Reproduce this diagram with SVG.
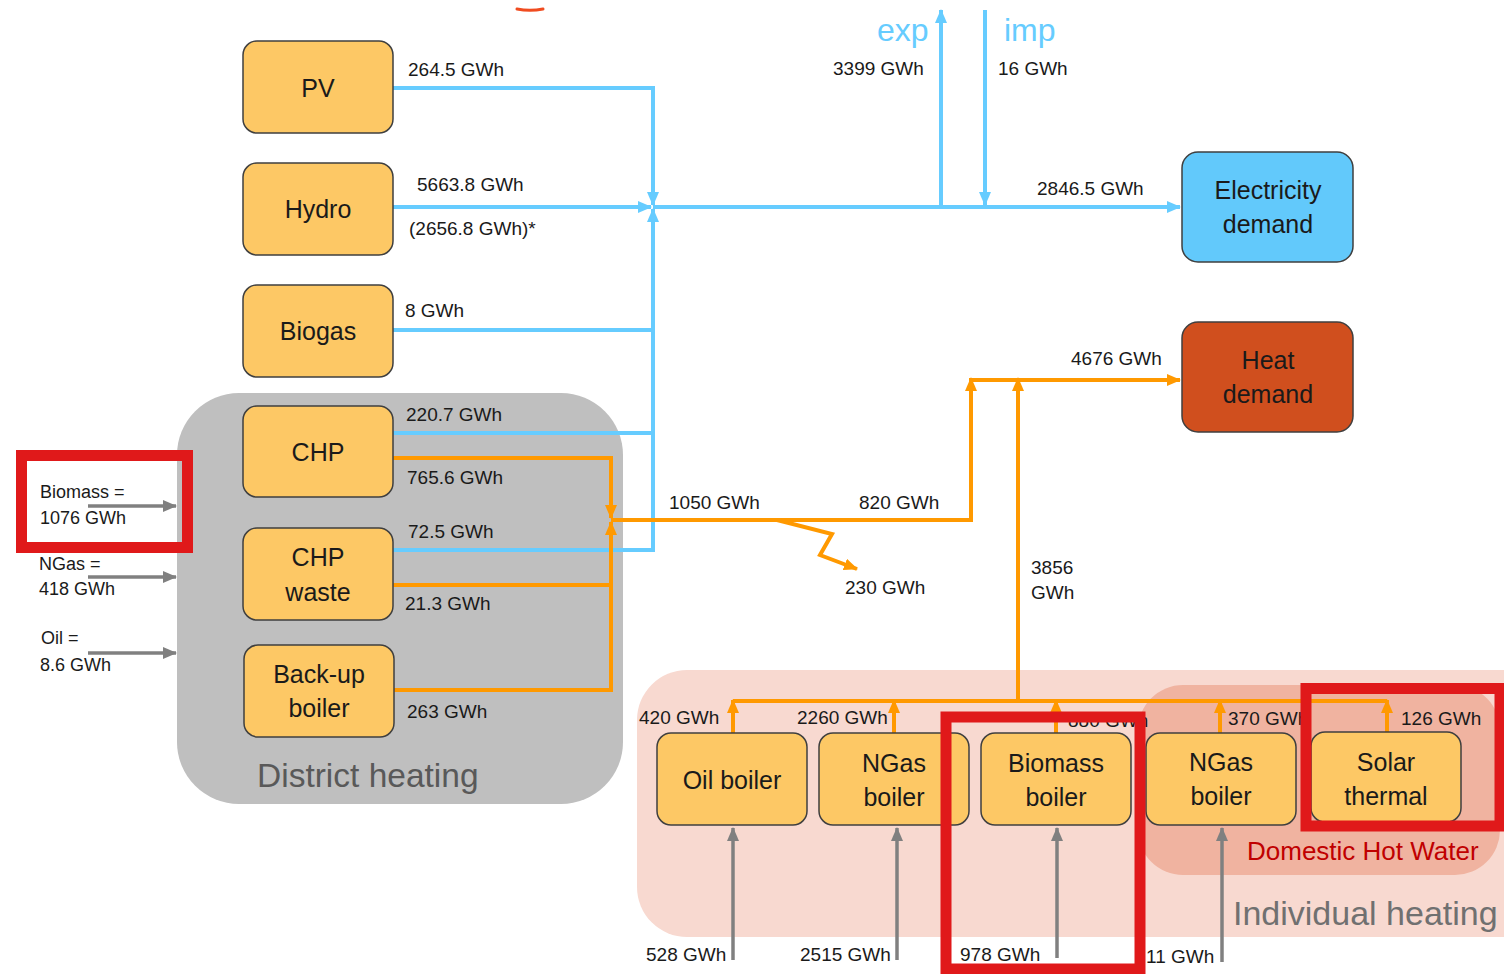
<svg xmlns="http://www.w3.org/2000/svg" width="1504" height="974" viewBox="0 0 1504 974">
  <style>
    text { font-family: "Liberation Sans", Arial, sans-serif; fill: #1a1a1a; }
    .node { fill: #FDC865; stroke: #3F3F3F; stroke-width: 1.5; }
    .nlabel { font-size: 25px; text-anchor: middle; }
    .val { font-size: 19px; }
    .src { font-size: 18px; }
    .elec { fill: none; stroke: #66CCFF; stroke-width: 4; }
    .heat { fill: none; stroke: #FF9900; stroke-width: 4; }
    .fuel { fill: none; stroke: #808080; stroke-width: 3.5; }
    .frame { fill: none; stroke: #E0191A; stroke-width: 11; }
  </style>
  <defs>
    <marker id="aBlue" markerUnits="userSpaceOnUse" markerWidth="14" markerHeight="12" refX="13" refY="6" orient="auto">
      <path d="M0,0 L14,6 L0,12 Z" fill="#66CCFF"/>
    </marker>
    <marker id="aOrange" markerUnits="userSpaceOnUse" markerWidth="14" markerHeight="12" refX="13" refY="6" orient="auto">
      <path d="M0,0 L14,6 L0,12 Z" fill="#FF9900"/>
    </marker>
    <marker id="aGray" markerUnits="userSpaceOnUse" markerWidth="14" markerHeight="12" refX="13" refY="6" orient="auto">
      <path d="M0,0 L14,6 L0,12 Z" fill="#808080"/>
    </marker>
  </defs>

  <rect width="1504" height="974" fill="#FFFFFF"/>

  <!-- small mark at the top edge -->
  <path d="M517,9 Q530,11.5 543,9" fill="none" stroke="#F04C20" stroke-width="3" stroke-linecap="round"/>

  <!-- regions -->
  <g id="district-heating">
    <rect x="177" y="393" width="446" height="411" rx="62" fill="#BFBFBF"/>
    <text x="257" y="787" font-size="33.5" style="fill:#595959">District heating</text>
  </g>
  <g id="individual-heating">
    <rect x="637" y="670" width="920" height="267" rx="50" fill="#F8D9D0"/>
    <text x="1233" y="925" font-size="34" style="fill:#707070">Individual heating</text>
  </g>
  <g id="domestic-hot-water">
    <rect x="1138" y="685" width="362" height="190" rx="45" fill="#F0B3A0"/>
    <text x="1247" y="860" font-size="26" style="fill:#C00000">Domestic Hot Water</text>
  </g>

  <!-- connectors -->
  <g id="connectors">
    <!-- electricity -->
    <path class="elec" d="M393,88 H653 V205" marker-end="url(#aBlue)"/>
    <path class="elec" d="M393,207 H651" marker-end="url(#aBlue)"/>
    <path class="elec" d="M393,330 H653"/>
    <path class="elec" d="M393,433 H653"/>
    <path class="elec" d="M393,550 H653 V209" marker-end="url(#aBlue)"/>
    <path class="elec" d="M653,207 H1180" marker-end="url(#aBlue)"/>
    <path class="elec" d="M941,207 V10" marker-end="url(#aBlue)"/>
    <path class="elec" d="M985,10 V205" marker-end="url(#aBlue)"/>
    <!-- heat, district -->
    <path class="heat" d="M393,458 H611 V518" marker-end="url(#aOrange)"/>
    <path class="heat" d="M393,585 H611"/>
    <path class="heat" d="M394,690 H611 V522" marker-end="url(#aOrange)"/>
    <path class="heat" d="M611,520 H971 V378" marker-end="url(#aOrange)"/>
    <path class="heat" d="M971,380 H1180" marker-end="url(#aOrange)"/>
    <path class="heat" d="M777,520 L832,534 L820,555 L857,569" marker-end="url(#aOrange)"/>
    <!-- heat, individual -->
    <path class="heat" d="M733,701 H1387"/>
    <path class="heat" d="M1018,701 V378" marker-end="url(#aOrange)"/>
    <path class="heat" d="M733,733 V700" marker-end="url(#aOrange)"/>
    <path class="heat" d="M894,733 V700" marker-end="url(#aOrange)"/>
    <path class="heat" d="M1056,733 V700" marker-end="url(#aOrange)"/>
    <path class="heat" d="M1220,733 V700" marker-end="url(#aOrange)"/>
    <path class="heat" d="M1387,732 V700" marker-end="url(#aOrange)"/>
    <!-- fuels -->
    <path class="fuel" d="M88,506 H176" marker-end="url(#aGray)"/>
    <path class="fuel" d="M88,577 H176" marker-end="url(#aGray)"/>
    <path class="fuel" d="M88,653 H176" marker-end="url(#aGray)"/>
    <path class="fuel" d="M733,960 V828" marker-end="url(#aGray)"/>
    <path class="fuel" d="M897,960 V828" marker-end="url(#aGray)"/>
    <path class="fuel" d="M1057,958 V828" marker-end="url(#aGray)"/>
    <path class="fuel" d="M1222,962 V828" marker-end="url(#aGray)"/>
  </g>

  <!-- supply nodes -->
  <g id="pv"><rect class="node" x="243" y="41" width="150" height="92" rx="14"/><text class="nlabel" x="318" y="97">PV</text></g>
  <g id="hydro"><rect class="node" x="243" y="163" width="150" height="92" rx="14"/><text class="nlabel" x="318" y="218">Hydro</text></g>
  <g id="biogas"><rect class="node" x="243" y="285" width="150" height="92" rx="14"/><text class="nlabel" x="318" y="340">Biogas</text></g>
  <g id="chp"><rect class="node" x="243" y="406" width="150" height="91" rx="14"/><text class="nlabel" x="318" y="461">CHP</text></g>
  <g id="chp-waste"><rect class="node" x="243" y="528" width="150" height="92" rx="14"/><text class="nlabel" x="318" y="566">CHP</text><text class="nlabel" x="318" y="601">waste</text></g>
  <g id="backup-boiler"><rect class="node" x="244" y="645" width="150" height="92" rx="14"/><text class="nlabel" x="319" y="683">Back-up</text><text class="nlabel" x="319" y="717">boiler</text></g>

  <!-- demand nodes -->
  <g id="electricity-demand"><rect x="1182" y="152" width="171" height="110" rx="16" fill="#62C9FB" stroke="#3F3F3F" stroke-width="1.5"/><text class="nlabel" x="1268" y="199">Electricity</text><text class="nlabel" x="1268" y="233">demand</text></g>
  <g id="heat-demand"><rect x="1182" y="322" width="171" height="110" rx="16" fill="#D04F1E" stroke="#3F3F3F" stroke-width="1.5"/><text class="nlabel" x="1268" y="369">Heat</text><text class="nlabel" x="1268" y="403">demand</text></g>

  <!-- individual boilers -->
  <g id="oil-boiler"><rect class="node" x="657" y="733" width="150" height="92" rx="14"/><text class="nlabel" x="732" y="789">Oil boiler</text></g>
  <g id="ngas-boiler"><rect class="node" x="819" y="733" width="150" height="92" rx="14"/><text class="nlabel" x="894" y="772">NGas</text><text class="nlabel" x="894" y="806">boiler</text></g>
  <g id="biomass-boiler"><rect class="node" x="981" y="733" width="150" height="92" rx="14"/><text class="nlabel" x="1056" y="772">Biomass</text><text class="nlabel" x="1056" y="806">boiler</text></g>
  <g id="ngas-boiler-dhw"><rect class="node" x="1146" y="733" width="150" height="92" rx="14"/><text class="nlabel" x="1221" y="771">NGas</text><text class="nlabel" x="1221" y="805">boiler</text></g>
  <g id="solar-thermal"><rect class="node" x="1311" y="732" width="150" height="90" rx="14"/><text class="nlabel" x="1386" y="771">Solar</text><text class="nlabel" x="1386" y="805">thermal</text></g>

  <!-- flow values -->
  <g id="labels">
    <text x="877" y="41" font-size="32" style="fill:#66CCFF">exp</text>
    <text x="1004" y="41" font-size="32" style="fill:#66CCFF">imp</text>
    <text class="val" x="833" y="75">3399 GWh</text>
    <text class="val" x="998" y="75">16 GWh</text>
    <text class="val" x="1037" y="195">2846.5 GWh</text>
    <text class="val" x="408" y="76">264.5 GWh</text>
    <text class="val" x="417" y="191">5663.8 GWh</text>
    <text class="val" x="409" y="235">(2656.8 GWh)*</text>
    <text class="val" x="405" y="317">8 GWh</text>
    <text class="val" x="406" y="421">220.7 GWh</text>
    <text class="val" x="407" y="484">765.6 GWh</text>
    <text class="val" x="408" y="538">72.5 GWh</text>
    <text class="val" x="405" y="610">21.3 GWh</text>
    <text class="val" x="407" y="718">263 GWh</text>
    <text class="val" x="669" y="509">1050 GWh</text>
    <text class="val" x="859" y="509">820 GWh</text>
    <text class="val" x="845" y="594">230 GWh</text>
    <text class="val" x="1071" y="365">4676 GWh</text>
    <text class="val" x="1031" y="574">3856</text>
    <text class="val" x="1031" y="599">GWh</text>
    <text class="val" x="639" y="724">420 GWh</text>
    <text class="val" x="797" y="724">2260 GWh</text>
    <text class="val" x="1068" y="727">880 GWh</text>
    <text class="val" x="1228" y="725">370 GWh</text>
    <text class="val" x="1401" y="725">126 GWh</text>
    <text class="val" x="646" y="961">528 GWh</text>
    <text class="val" x="800" y="961">2515 GWh</text>
    <text class="val" x="960" y="961">978 GWh</text>
    <text class="val" x="1146" y="963">11 GWh</text>
    <text class="src" x="40" y="498">Biomass =</text>
    <text class="src" x="40" y="524">1076 GWh</text>
    <text class="src" x="39" y="570">NGas =</text>
    <text class="src" x="39" y="595">418 GWh</text>
    <text class="src" x="41" y="644">Oil =</text>
    <text class="src" x="40" y="671">8.6 GWh</text>
  </g>

  <!-- highlight frames -->
  <g id="highlights">
    <rect class="frame" x="21.5" y="455.5" width="166" height="92"/>
    <rect class="frame" x="946" y="717" width="194" height="252"/>
    <rect class="frame" x="1306" y="688.5" width="194" height="137.5"/>
  </g>
</svg>
